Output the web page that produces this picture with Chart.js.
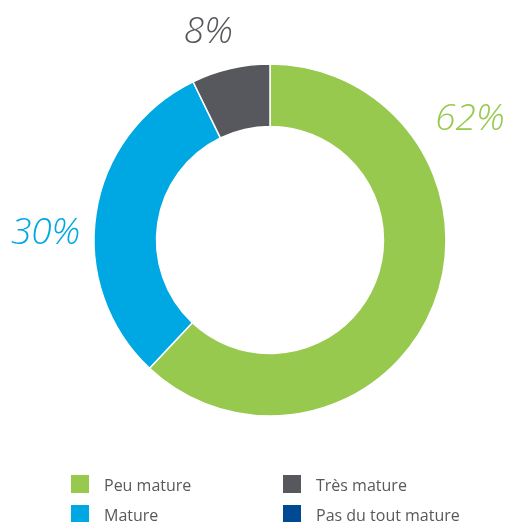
<!DOCTYPE html>
<html>
<head>
<meta charset="utf-8">
<script src="https://cdn.jsdelivr.net/npm/chart.js@4/dist/chart.umd.min.js"></script>
<style>
  html, body { margin: 0; padding: 0; background: #fff; }
  #wrap { position: relative; width: 510px; height: 522px; overflow: hidden; }
  #chart { position: absolute; left: 0; top: 0; }
  .lg { position: absolute; font-family: "Open Sans", sans-serif; font-size: 16px; color: #58595b; line-height: 18px; white-space: nowrap; }
  .lg span.box { position: absolute; left: 0; top: 0; width: 18px; height: 18px; }
  .lg span.txt { position: absolute; left: 33px; top: 1px; }
</style>
</head>
<body>
<div id="wrap">
  <canvas id="chart" width="510" height="522"></canvas>
</div>
<script>
// data
const categories = ['Peu mature', 'Mature', 'Très mature', 'Pas du tout mature'];
const shares = [62, 30.8, 7.2, 0];          // read from the arcs
const shareLabels = ['62%', '30%', '8%', ''];
const colors = ['#97c94e', '#00a8e3', '#57585d', '#004a93'];

// where each % label sits, relative to the centre, in outer-radius units
const labelPos = [[1.136, -0.685], [-1.275, -0.035], [-0.35, -1.18], null];

// legend layout: [left, top] of each swatch
const legendPos = [[71, 475], [71, 505], [283, 475], [283, 505]];

const pctLabels = {
  id: 'pctLabels',
  afterDraw(chart) {
    const ctx = chart.ctx;
    const arcs = chart.getDatasetMeta(0).data;
    ctx.save();
    ctx.font = 'italic 300 37px "Open Sans", sans-serif';
    ctx.textAlign = 'center';
    ctx.textBaseline = 'middle';
    arcs.forEach((arc, i) => {
      if (!labelPos[i] || !shareLabels[i]) return;
      const r = arc.outerRadius;
      ctx.fillStyle = colors[i];
      ctx.fillText(shareLabels[i], arc.x + labelPos[i][0] * r, arc.y + labelPos[i][1] * r);
    });
    ctx.restore();
  }
};

new Chart(document.getElementById('chart').getContext('2d'), {
  type: 'doughnut',
  data: {
    labels: categories,
    datasets: [{
      data: shares,
      backgroundColor: colors,
      borderColor: '#ffffff',
      borderWidth: 1.5
    }]
  },
  options: {
    responsive: false,
    animation: false,
    radius: 176,
    cutout: 113,
    layout: { padding: { left: 94, right: 64, top: 64, bottom: 106 } },
    plugins: { legend: { display: false }, tooltip: { enabled: false } }
  },
  plugins: [pctLabels]
});

// html legend, two columns
const wrap = document.getElementById('wrap');
categories.forEach((c, i) => {
  const d = document.createElement('div');
  d.className = 'lg';
  d.style.left = legendPos[i][0] + 'px';
  d.style.top = legendPos[i][1] + 'px';
  d.innerHTML = '<span class="box" style="background:' + colors[i] + '"></span><span class="txt">' + c + '</span>';
  wrap.appendChild(d);
});
</script>
</body>
</html>
